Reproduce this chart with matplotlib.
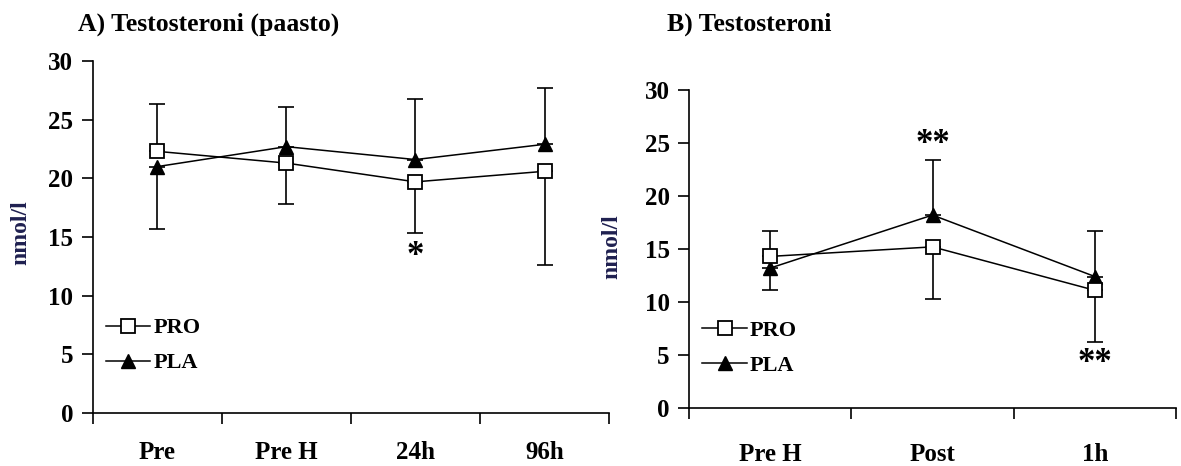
import numpy as np
import matplotlib
matplotlib.use("Agg")
import matplotlib.pyplot as plt

plt.rcParams['font.family'] = ['Liberation Serif', 'DejaVu Serif']
plt.rcParams['font.weight'] = 'bold'

# A) paastonäytteet
times_a = ["Pre", "Pre H", "24h", "96h"]
pro_a = [22.3, 21.3, 19.7, 20.6]
pro_a_sd = [4.0, 3.5, 4.4, 8.0]
pro_a_up = [True, False, False, False]
pla_a = [21.0, 22.7, 21.6, 22.9]
pla_a_sd = [5.3, 3.4, 5.2, 4.8]
pla_a_up = [False, True, True, True]

# B) harjoituksen yhteydessä
times_b = ["Pre H", "Post", "1h"]
pro_b = [14.3, 15.2, 11.1]
pro_b_sd = [2.35, 4.9, 4.9]
pro_b_up = [True, False, False]
pla_b = [13.2, 18.2, 12.4]
pla_b_sd = [2.1, 5.2, 4.25]
pla_b_up = [False, True, True]

# merkitsevyysmerkit: (aikapiste, y, teksti)
sig_a = [(2, 13.3, "*")]
sig_b = [(1, 24.9, "**"), (2, 4.2, "**")]

AX_LW = 1.2
TICK_FS = 18


def one_sided(sd, up):
    sd = np.array(sd)
    up = np.array(up)
    lower = np.where(up, 0, sd)
    upper = np.where(up, sd, 0)
    return np.vstack([lower, upper])


def draw_panel(ax, labels, pro, pro_sd, pro_up, pla, pla_sd, pla_up, sig,
               xpad, leg_y):
    x = np.arange(len(labels)) + 0.5
    ax.errorbar(x, pro, yerr=one_sided(pro_sd, pro_up), fmt='none',
                ecolor='black', elinewidth=1.2, capsize=6, capthick=1.2, zorder=2)
    ax.errorbar(x, pla, yerr=one_sided(pla_sd, pla_up), fmt='none',
                ecolor='black', elinewidth=1.2, capsize=6, capthick=1.2, zorder=2)
    ax.plot(x, pro, '-s', color='black', lw=1.1, ms=9.5, mfc='white',
            mec='black', mew=1.3, label='PRO', zorder=4)
    ax.plot(x, pla, '-^', color='black', lw=1.1, ms=10, mfc='black',
            mec='black', mew=1.0, label='PLA', zorder=3)
    for i, y, s in sig:
        ax.text(x[i], y, s, ha='center', va='center', fontsize=25,
                fontweight='bold')

    ax.set_xlim(0, len(labels))
    ax.set_ylim(0, 30)
    ax.set_yticks(range(0, 31, 5))
    ax.set_xticks(np.arange(len(labels) + 1))
    ax.set_xticklabels([])
    ax.set_xticks(x, minor=True)
    ax.set_xticklabels(labels, minor=True)
    ax.tick_params(axis='x', which='minor', length=0, pad=xpad,
                   labelsize=TICK_FS)
    ax.tick_params(axis='x', which='major', length=8, width=AX_LW,
                   direction='out')
    ax.tick_params(axis='y', length=8, width=AX_LW, direction='out',
                   labelsize=TICK_FS, pad=6)
    for lab in ax.get_xticklabels(minor=True) + ax.get_yticklabels():
        lab.set_fontweight('bold')
    for side in ['top', 'right']:
        ax.spines[side].set_visible(False)
    for side in ['left', 'bottom']:
        ax.spines[side].set_linewidth(AX_LW)

    leg = ax.legend(loc='lower left', bbox_to_anchor=(0.0, leg_y),
                    frameon=False, handlelength=2.0, handletextpad=0.15,
                    labelspacing=0.65, borderaxespad=0.2,
                    prop={'size': 16, 'weight': 'bold'})
    return leg


fig = plt.figure(figsize=(11.81, 4.66), dpi=100)
ax1 = fig.add_axes([0.0785, 0.1137, 0.4372, 0.7554])
ax2 = fig.add_axes([0.5834, 0.1245, 0.4124, 0.6824])

draw_panel(ax1, times_a, pro_a, pro_a_sd, pro_a_up,
           pla_a, pla_a_sd, pla_a_up, sig_a, 20, 0.075)
draw_panel(ax2, times_b, pro_b, pro_b_sd, pro_b_up,
           pla_b, pla_b_sd, pla_b_up, sig_b, 25, 0.06)

fig.text(0.066, 0.947, "A) Testosteroni (paasto)", fontsize=18.5,
         fontweight='bold', va='center', ha='left')
fig.text(0.565, 0.947, "B) Testosteroni", fontsize=18.5,
         fontweight='bold', va='center', ha='left')

ycol = '#1f2050'
fig.text(0.018, 0.50, "nmol/l", rotation=90, fontsize=17,
         fontweight='bold', color=ycol, va='center', ha='center')
fig.text(0.518, 0.47, "nmol/l", rotation=90, fontsize=17,
         fontweight='bold', color=ycol, va='center', ha='center')

fig.savefig("out.png", dpi=100)
